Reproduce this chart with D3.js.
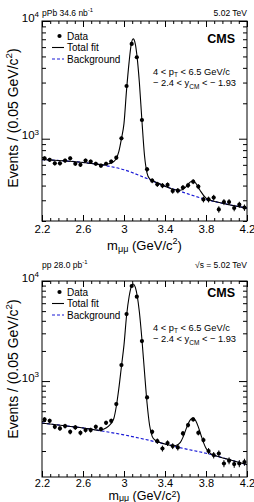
<!DOCTYPE html>
<html><head><meta charset="utf-8">
<script src="https://cdn.jsdelivr.net/npm/d3@7"></script>
<style>
body{margin:0;background:#fff;}
svg{display:block;font-family:"Liberation Sans",Arial,Helvetica,sans-serif;}
</style></head><body>
<svg id="c" width="254" height="502"></svg>
<script>
// ---------------- data ----------------
const massBins = [2.225,2.275,2.325,2.375,2.425,2.475,2.525,2.575,2.625,2.675,
  2.725,2.775,2.825,2.875,2.925,2.975,3.025,3.075,3.125,3.175,
  3.225,3.275,3.325,3.375,3.425,3.475,3.525,3.575,3.625,3.675,
  3.725,3.775,3.825,3.875,3.925,3.975,4.025,4.075,4.125,4.175];
const pPbCounts = [681,662,618,618,652,681,613,600,652,640,
  613,590,613,640,690,1008,2805,6383,4920,1442,
  550,440,410,400,405,360,362,385,402,432,
  392,305,305,316,251,290,290,258,275,260];
const ppCounts = [414,401,349,336,355,311,344,304,324,324,
  349,331,383,401,589,1445,4677,8913,6966,2512,
  687,311,251,212,240,224,217,300,363,414,
  304,257,200,182,189,150,160,148,150,155];
const pPbFitMass = [2.2,2.3,2.4,2.5,2.6,2.7,2.8,2.85,2.9,2.925,2.95,2.975,3.0,3.025,3.05,3.07,3.09,3.11,3.125,3.15,3.175,3.2,3.225,3.25,3.3,3.35,3.4,3.45,3.5,3.55,3.6,3.625,3.65,3.675,3.7,3.725,3.75,3.8,3.85,3.9,4.0,4.1,4.2];
const pPbFit = [665,658,650,640,628,613,600,612,640,680,780,1000,1350,2600,4500,6300,7050,6400,5200,3000,1420,720,510,455,432,415,395,380,368,365,386,409,430,435,419,387,355,313,299,291,278,267,257];
const ppFitMass = [2.2,2.3,2.4,2.5,2.6,2.7,2.75,2.8,2.85,2.9,2.925,2.95,2.975,3.0,3.025,3.05,3.07,3.09,3.11,3.13,3.15,3.175,3.2,3.225,3.25,3.275,3.3,3.35,3.4,3.45,3.5,3.55,3.575,3.6,3.625,3.65,3.672,3.7,3.725,3.75,3.775,3.8,3.85,3.9,4.0,4.1,4.2];
const ppFit = [380,370,360,350,340,328,322,330,355,420,560,850,1400,2300,4500,7000,8700,9330,8680,7000,4900,2600,1230,600,360,280,258,243,235,228,226,244,274,320,373,415,428,402,349,291,244,213,187,178,167,156,146];
const bkgMass = [2.2,2.4,2.6,2.8,3.0,3.2,3.4,3.6,3.8,4.0,4.2];
const pPbBkg = [665,650,628,595,545,468,395,345,305,278,257];
const ppBkg = [380,360,340,315,290,262,235,210,190,167,146];
const xMajorTicks = [2.2,2.6,3.0,3.4,3.8,4.2];
const xTickLabels = ["2.2","2.6","3","3.4","3.8","4.2"];
const yMajorTicks = [1e3,1e4];
const yTickExps = ["3","4"];
const legendLabels = ["Data","Total fit","Background"];

// ---------------- drawing ----------------
const svg = d3.select("#c");
const X0 = 42, X1 = 247;
const x = d3.scaleLinear().domain([2.2,4.2]).range([X0,X1]);
const xMinor = d3.range(0,26).map(k => 2.2 + 0.08*k);

function addScript(sel, parts, size, subShift, supShift){
  const sb = subShift === undefined ? 0.3 : subShift;
  const sp = supShift === undefined ? 0.4 : supShift;
  let shift = 0;
  parts.forEach(([t,m]) => {
    const target = m==="sub" ? sb*size : m==="sup" ? -sp*size : 0;
    const ts = sel.append("tspan").attr("dy", target - shift).text(t);
    if (m !== "n") ts.attr("font-size", (size*0.7).toFixed(1));
    shift = target;
  });
}

function panel(o){
  const y = d3.scaleLog().domain([o.yMin,1e4]).range([o.yB,o.yT]);
  const g = svg.append("g");
  const yMinor = [];
  [100,1000].forEach(b => { for(let k=2;k<=9;k++){ const v=b*k; if(v>=o.yMin && v<1e4) yMinor.push(v);} });

  const mk = (axis, tr) => g.append("g").attr("transform", tr).call(axis)
      .call(s => s.select(".domain").remove())
      .call(s => s.selectAll(".tick line").attr("stroke","#000").attr("stroke-width",1));
  mk(d3.axisBottom(x).tickValues(xMinor).tickSize(-3).tickFormat(""), `translate(0,${o.yB})`);
  mk(d3.axisTop(x).tickValues(xMinor).tickSize(-3).tickFormat(""), `translate(0,${o.yT})`);
  mk(d3.axisTop(x).tickValues(xMajorTicks).tickSize(-6).tickFormat(""), `translate(0,${o.yT})`);
  const xb = mk(d3.axisBottom(x).tickValues(xMajorTicks).tickSize(-6).tickPadding(o.xPad)
      .tickFormat((d,i)=>xTickLabels[i]), `translate(0,${o.yB})`);
  xb.selectAll(".tick text").attr("font-size",o.xFont).attr("fill","#000").attr("font-family",null);

  mk(d3.axisLeft(y).tickValues(yMinor).tickSize(-4).tickFormat(""), `translate(${X0},0)`);
  mk(d3.axisRight(y).tickValues(yMinor).tickSize(-4).tickFormat(""), `translate(${X1},0)`);
  mk(d3.axisRight(y).tickValues(yMajorTicks).tickSize(-8).tickFormat(""), `translate(${X1},0)`);
  const yl = mk(d3.axisLeft(y).tickValues(yMajorTicks).tickSize(-8).tickPadding(4).tickFormat(""), `translate(${X0},0)`);
  yl.selectAll(".tick").each(function(d,i){
    const t = d3.select(this).select("text").attr("font-size",11.5).attr("fill","#000")
      .attr("font-family",null).attr("dy","0.32em").attr("x",-3);
    t.text(null);
    addScript(t, [["10","n"],[yTickExps[i],"sup"]], 11.5);
  });

  g.append("rect").attr("x",X0).attr("y",o.yT).attr("width",X1-X0).attr("height",o.yB-o.yT)
    .attr("fill","none").attr("stroke","#000").attr("stroke-width",1);

  const clip = "clip"+o.id;
  svg.append("clipPath").attr("id",clip).append("rect")
    .attr("x",X0).attr("y",o.yT).attr("width",X1-X0).attr("height",o.yB-o.yT);
  const pg = g.append("g").attr("clip-path",`url(#${clip})`);

  pg.append("path").datum(bkgMass.map((m,i)=>[m,o.bkg[i]]))
    .attr("d", d3.line().x(d=>x(d[0])).y(d=>y(d[1])).curve(d3.curveMonotoneX))
    .attr("fill","none").attr("stroke","#1a1ad6").attr("stroke-width",1.2).attr("stroke-dasharray","3,2");
  pg.append("path").datum(o.fitMass.map((m,i)=>[m,o.fit[i]]))
    .attr("d", d3.line().x(d=>x(d[0])).y(d=>y(d[1])).curve(d3.curveMonotoneX))
    .attr("fill","none").attr("stroke","#000").attr("stroke-width",1.1);
  const pts = massBins.map((m,i)=>({m, v:o.counts[i]}));
  pg.selectAll(".err").data(pts).join("line")
    .attr("x1",d=>x(d.m)).attr("x2",d=>x(d.m))
    .attr("y1",d=>y(d.v+Math.sqrt(d.v))).attr("y2",d=>y(d.v-Math.sqrt(d.v)))
    .attr("stroke","#000").attr("stroke-width",1);
  pg.selectAll(".pt").data(pts).join("circle")
    .attr("cx",d=>x(d.m)).attr("cy",d=>y(d.v)).attr("r",2.1).attr("fill","#000");

  const h = svg.append("text").attr("x",X0).attr("y",o.hY).attr("font-size",8.5);
  addScript(h, o.headerL, 8.5);
  svg.append("text").attr("x",X1).attr("y",o.hY).attr("font-size",8.5).attr("text-anchor","end").text(o.headerR);

  const L = o.legY;
  svg.append("circle").attr("cx",59.5).attr("cy",L).attr("r",2.1).attr("fill","#000");
  svg.append("line").attr("x1",52).attr("x2",64).attr("y1",L+11.5).attr("y2",L+11.5).attr("stroke","#000").attr("stroke-width",1.1);
  svg.append("line").attr("x1",52).attr("x2",64).attr("y1",L+23).attr("y2",L+23).attr("stroke","#1a1ad6").attr("stroke-width",1.2).attr("stroke-dasharray","3,2");
  legendLabels.forEach((t,i)=> svg.append("text").attr("x",67).attr("y",L+3.5+11.5*i).attr("font-size",10).text(t));

  svg.append("text").attr("x",235).attr("y",o.cmsY).attr("font-size",12.5).attr("font-weight","bold")
    .attr("text-anchor","end").text("CMS");
  const k1 = svg.append("text").attr("x",153).attr("y",o.kinY).attr("font-size",9.3);
  addScript(k1, [["4 < p","n"],["T","sub"],[" < 6.5 GeV/c","n"]], 9.3);
  const k2 = svg.append("text").attr("x",153).attr("y",o.kinY+11.5).attr("font-size",9.3);
  addScript(k2, [["\u2212 2.4 < y","n"],["CM","sub"],[" < \u2212 1.93","n"]], 9.3);

  const xt = svg.append("text").attr("x",(X0+X1)/2).attr("y",o.xTitleY).attr("font-size",o.xTitleFont).attr("text-anchor","middle");
  addScript(xt, [["m","n"],["\u03bc\u03bc","sub"],[" (GeV/c","n"],["2","sup"],[")","n"]], o.xTitleFont, o.subShift, o.supShift);
  const yt = svg.append("text").attr("transform",`translate(17.5,${o.yTitleC}) rotate(-90)`)
    .attr("font-size",14).attr("text-anchor","middle");
  addScript(yt, [["Events / (0.05 GeV/c","n"],["2","sup"],[")","n"]], 14);
}

panel({id:"a", yT:21, yB:221, yMin:200, counts:pPbCounts, fitMass:pPbFitMass, fit:pPbFit, bkg:pPbBkg,
  headerL:[["pPb 34.6 nb","n"],["-1","sup"]], headerR:"5.02 TeV", hY:15.5, legY:36, cmsY:43.3, kinY:74.5,
  xTitleY:249.5, yTitleC:118, xPad:4, xFont:11.5, xTitleFont:13, subShift:0.2, supShift:0.4});
panel({id:"b", yT:281, yB:477, yMin:110, counts:ppCounts, fitMass:ppFitMass, fit:ppFit, bkg:ppBkg,
  headerL:[["pp 28.0 pb","n"],["-1","sup"]], headerR:"\u221As = 5.02 TeV", hY:267.5, legY:292, cmsY:297.3, kinY:330.5,
  xTitleY:499.5, yTitleC:369, xPad:2, xFont:11, xTitleFont:12.5, subShift:0.12, supShift:0.22});
</script></body></html>
